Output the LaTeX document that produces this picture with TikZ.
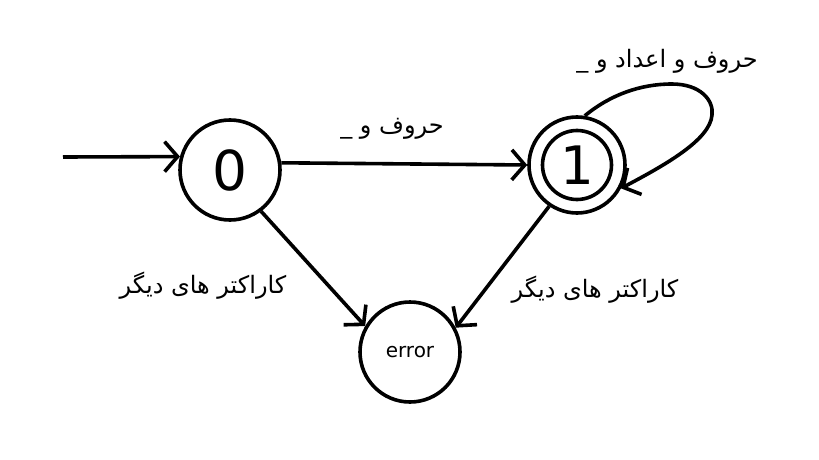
\documentclass[tikz,border=0pt]{standalone}
\usepackage{fontspec}
\setmainfont{DejaVu Sans}
\newfontfamily\arabicfont[Script=Arabic]{DejaVu Sans}
\TeXXeTstate=1
\usetikzlibrary{arrows.meta}

\begin{document}
\begin{tikzpicture}[x=1pt,y=-1pt,
  state/.style={circle,draw,line width=3.6pt,inner sep=0pt,minimum size=100pt},
  edge/.style={line width=3.6pt,-{Straight Barb[length=13pt,width=30pt,line width=3.6pt]}},
  lbl/.style={font=\arabicfont\fontsize{24}{28}\selectfont,inner sep=0pt}]

  % canvas
  \useasboundingbox (0,0) rectangle (819,460);

  % states
  \node[state] (s0) at (230,170) {\fontsize{55}{60}\selectfont 0};
  \node[state,minimum size=96pt] (s1) at (577,165) {};
  \node[state,minimum size=69pt] (s1in) at (577,165) {\fontsize{53}{60}\selectfont 1};
  \node[state] (err) at (410,352) {\fontsize{20}{24}\selectfont error};

  % start arrow
  \coordinate (start) at (63,157);
  \draw[edge] (start) -- (s0.165);

  % transitions
  \draw[edge] (s0.8) -- (s1.180);
  \draw[edge] (s0.-53) -- (err.150);
  \draw[edge] (s1.-124) -- (err.28);
  \draw[edge] (s1.81) .. controls (610,95) and (640,84) .. (672,84)
        .. controls (700,84) and (714,100) .. (712,115)
        .. controls (710,140) and (665,165) .. (s1.-28);

  % labels
  \node[lbl] (lloop) at (667,61) {\beginR حروف و اعداد و \_\endR};
  \node[lbl] (l01) at (392,129) {\beginR حروف و \_\endR};
  \node[lbl] (l0e) at (203,286) {\beginR کاراکتر های دیگر\endR};
  \node[lbl] (l1e) at (595,290) {\beginR کاراکتر های دیگر\endR};
\end{tikzpicture}
\end{document}
